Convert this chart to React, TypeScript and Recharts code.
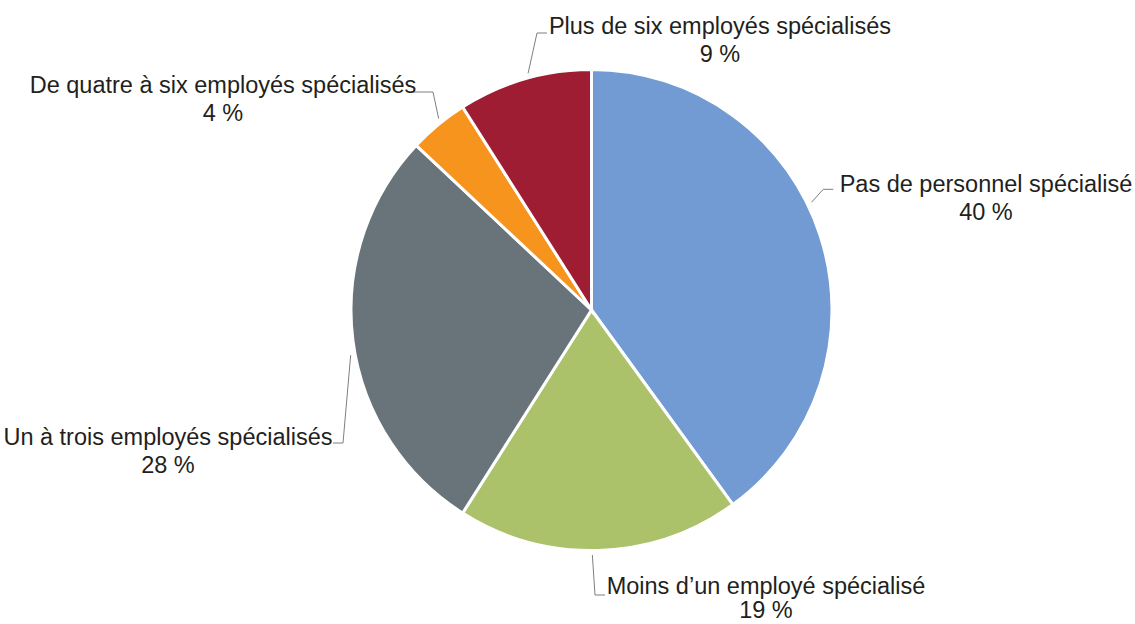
import React from "react";
import { PieChart, Pie, Cell } from "recharts";

const categories = [
  "Pas de personnel spécialisé",
  "Moins d’un employé spécialisé",
  "Un à trois employés spécialisés",
  "De quatre à six employés spécialisés",
  "Plus de six employés spécialisés",
];
const values = [40, 19, 28, 4, 9];
const colors = ["#729bd3", "#abc26b", "#69747a", "#f7941d", "#9e1d32"];

// label layout (relative to pie centre): leader start angle, elbow, end, text centre/baseline, line gap
const labelLayout = [
  { a: 26.1, ex: 231.8, ey: -120.7, hx: 241.8, tx: 394.5, ty: -118, g: 28 },
  { a: -89.8, ex: 3.5, ey: 285, hx: 13.5, tx: 174.5, ty: 284, g: 24 },
  { a: 190.6, ex: -248.5, ey: 133, hx: -258.5, tx: -423.5, ty: 135, g: 28 },
  { a: 128.6, ex: -158.5, ey: -218, hx: -178.5, tx: -368.5, ty: -217.3, g: 28 },
  { a: 105, ex: -54.5, ey: -277, hx: -44.5, tx: 128.5, ty: -276, g: 28 },
];

const data = categories.map((name, i) => ({ name, value: values[i] }));

const FONT = "'Liberation Sans', Arial, sans-serif";

const renderLabel = (props: any) => {
  const { cx, cy, index } = props;
  const L = labelLayout[index];
  const r = 245;
  const rad = (L.a * Math.PI) / 180;
  const sx = cx + r * Math.cos(rad);
  const sy = cy - r * Math.sin(rad);
  const ex = cx + L.ex;
  const ey = cy + L.ey;
  const hx = cx + L.hx;
  return (
    <g key={`lbl-${index}`}>
      <polyline
        points={`${sx},${sy} ${ex},${ey} ${hx},${ey}`}
        fill="none"
        stroke="#7f7f7f"
        strokeWidth={1}
      />
      <text
        x={cx + L.tx}
        y={cy + L.ty}
        textAnchor="middle"
        fill="#231f20"
        fontSize={23.5}
        fontFamily={FONT}
      >
        <tspan x={cx + L.tx} y={cy + L.ty}>{categories[index]}</tspan>
        <tspan x={cx + L.tx} y={cy + L.ty + L.g}>{`${values[index]}\u00a0%`}</tspan>
      </text>
    </g>
  );
};

export default function App() {
  return (
    <div style={{ position: "absolute", left: 0, top: 0, width: 1135, height: 624, background: "#fff" }}>
      <PieChart width={1135} height={624} margin={{ top: 0, right: 0, bottom: 0, left: 0 }}>
        <Pie
          data={data}
          dataKey="value"
          nameKey="name"
          cx={591.5}
          cy={310}
          outerRadius={240.5}
          startAngle={90}
          endAngle={-270}
          stroke="#ffffff"
          strokeWidth={3}
          label={renderLabel}
          labelLine={false}
          isAnimationActive={false}
        >
          {data.map((d, i) => (
            <Cell key={d.name} fill={colors[i]} />
          ))}
        </Pie>
      </PieChart>
    </div>
  );
}
